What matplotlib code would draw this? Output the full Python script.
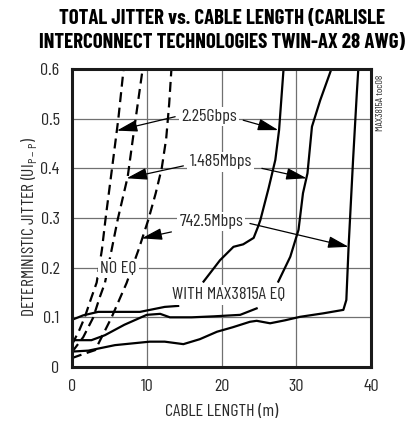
import matplotlib
matplotlib.use('Agg')
import matplotlib.pyplot as plt
import numpy as np

plt.rcParams['font.family'] = ['Barlow Condensed', 'DejaVu Sans']

# ---------------------------------------------------------------------------
# data (cable length in m, jitter in UI p-p)
# NaN marks where a curve is hidden under a label
# ---------------------------------------------------------------------------
noeq_225_x = [0, 1.0, 1.7, 2.6, 3.3, 4.0, 4.5, 5.5, 6.2, 6.9]
noeq_225_y = [0.045, 0.075, 0.10, 0.14, 0.17, 0.236, 0.30, 0.417, 0.50, 0.60]

noeq_1485_x = [0, 1.5, 2.85, 3.7, 4.4, 5.3, 6.1, 7.45, 8.3, 9.45]
noeq_1485_y = [0.03, 0.06, 0.10, 0.14, 0.169, 0.236, 0.296, 0.383, 0.477, 0.60]

noeq_7425_x = [0, 1.5, 3.1, 4.3, 5.3, 7.3, 8.9, 10.2, 11.2, 12.0, 12.6, 13.0, 13.3]
noeq_7425_y = [0.018, 0.026, 0.034, 0.07, 0.10, 0.169, 0.236, 0.296, 0.35, 0.40, 0.46, 0.53, 0.60]

eq_225_x = [0, 1.5, 3.5, 6.0, 9.1, 12.4, 14.2, np.nan,
            17.6, 19.8, 21.6, 22.9, 24.3, 24.9, 25.2, 26.3, 27.2, 27.7, 28.3]
eq_225_y = [0.095, 0.104, 0.111, 0.111, 0.111, 0.121, 0.123, np.nan,
            0.172, 0.215, 0.242, 0.247, 0.26, 0.283, 0.296, 0.36, 0.417, 0.477, 0.60]

eq_1485_x = [0, 2.6, 4.4, 7.0, 10.0, 11.8, 13.1, 16.0, 19.0, 22.5, 24.7, np.nan,
             27.6, 29.2, 30.3, 30.9, 31.5, 32.1, 33.2, 34.7]
eq_1485_y = [0.054, 0.054, 0.064, 0.085, 0.105, 0.107, 0.10, 0.10, 0.102, 0.105, 0.118, np.nan,
             0.172, 0.222, 0.276, 0.35, 0.39, 0.484, 0.537, 0.60]

eq_7425_x = [0, 2.2, 5.75, 10.4, 12.4, 14.9, 17.1, 19.4, 21.5, 23.8, 24.7, 26.5, 28.5, 30.5,
             33.6, 36.3, 36.7, 37.0, 37.6, 38.1, 38.3]
eq_7425_y = [0.031, 0.033, 0.044, 0.051, 0.051, 0.046, 0.056, 0.071, 0.08, 0.091, 0.093, 0.088,
             0.094, 0.101, 0.108, 0.115, 0.135, 0.242, 0.417, 0.551, 0.60]

x_ticks = [0, 10, 20, 30, 40]
y_ticks = [0, 0.1, 0.2, 0.3, 0.4, 0.5, 0.6]
y_tick_labels = ['0', '0.1', '0.2', '0.3', '0.4', '0.5', '0.6']

# ---------------------------------------------------------------------------
fig = plt.figure(figsize=(4.15, 4.21), dpi=100)
ax = fig.add_axes([0.1735, 0.1283, 0.7205, 0.7077])

fs = 13
txt_col = '#2a2a2a'

ax.set_xlim(0, 40)
ax.set_ylim(0, 0.6)
ax.set_xticks(x_ticks)
ax.set_yticks(y_ticks)
ax.set_yticklabels(y_tick_labels)
ax.tick_params(length=0, labelsize=fs, pad=9, colors=txt_col)
ax.grid(True, color='#707070', linewidth=0.9)
ax.set_axisbelow(True)
for s in ax.spines.values():
    s.set_linewidth(2.2)
    s.set_color('#1a1a1a')

dash = dict(color='black', linewidth=1.6, linestyle=(0, (4.5, 2.5)))
ax.plot(noeq_225_x, noeq_225_y, **dash)
ax.plot(noeq_1485_x, noeq_1485_y, **dash)
ax.plot(noeq_7425_x, noeq_7425_y, **dash)

solid = dict(color='black', linewidth=1.6)
ax.plot(eq_225_x, eq_225_y, **solid)
ax.plot(eq_1485_x, eq_1485_y, **solid)
ax.plot(eq_7425_x, eq_7425_y, **solid)

# labels with white boxes that cover the grid
box = dict(facecolor='white', edgecolor='none', pad=1.5)
lab = dict(fontsize=fs, color=txt_col, ha='center', va='center', bbox=box, zorder=4)
ax.text(18.3, 0.504, '2.25Gbps', **lab)
ax.text(19.9, 0.413, '1.485Mbps', **lab)
ax.text(18.6, 0.293, '742.5Mbps', **lab)
ax.text(6.2, 0.199, 'NO EQ', **lab)
ax.text(20.9, 0.145, 'WITH MAX3815A EQ', **lab)

arrow = dict(arrowstyle='-|>,head_length=0.7,head_width=0.2', color='black', lw=0.9,
             mutation_scale=18, shrinkA=0, shrinkB=0)
arrows = [((13.8, 0.504), (6.0, 0.476)), ((22.9, 0.497), (27.6, 0.477)),
          ((14.9, 0.405), (7.3, 0.38)), ((25.4, 0.400), (31.4, 0.38)),
          ((13.3, 0.272), (9.3, 0.259)), ((23.8, 0.289), (37.0, 0.242))]
for start, tip in arrows:
    ax.annotate('', xy=tip, xytext=start, arrowprops=arrow, zorder=5)

ax.set_xlabel('CABLE LENGTH (m)', fontsize=fs, color=txt_col, labelpad=7)
ax.set_ylabel('DETERMINISTIC JITTER (UI$_{\\mathregular{P-P}}$)', fontsize=12.5,
              color=txt_col)
ax.yaxis.set_label_coords(-0.11, 0.47)

fig.text(0.535, 0.955, 'TOTAL JITTER vs. CABLE LENGTH (CARLISLE',
         fontsize=15, fontweight='bold', ha='center', va='center')
fig.text(0.535, 0.900, 'INTERCONNECT TECHNOLOGIES TWIN-AX 28 AWG)',
         fontsize=15, fontweight='bold', ha='center', va='center')
fig.text(0.917, 0.756, 'MAX3815A toc08', fontsize=7.5, rotation=90,
         ha='center', va='center', color=txt_col)

fig.savefig('out.png', dpi=100)
